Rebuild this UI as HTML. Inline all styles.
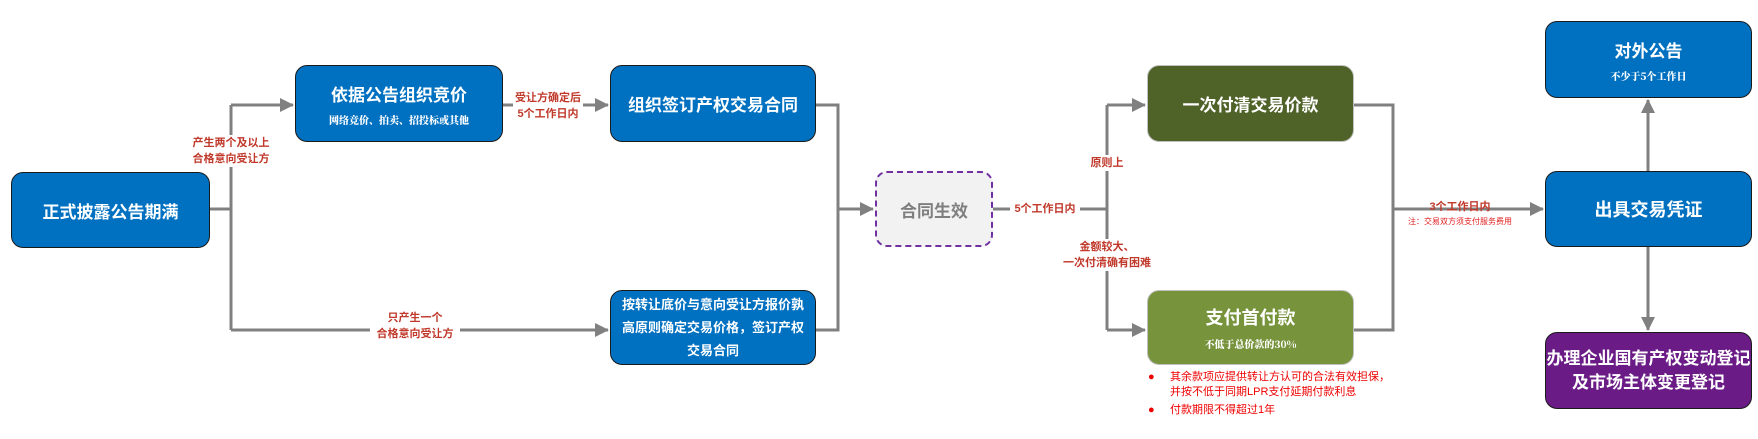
<!DOCTYPE html>
<html><head><meta charset="utf-8"><style>
body{margin:0;width:1758px;height:439px;background:#fff;position:relative;overflow:hidden;font-family:"Liberation Sans","Noto Sans CJK SC",sans-serif}
.b{position:absolute;border-radius:12px;box-sizing:border-box;color:#fff;font-weight:bold;display:flex;flex-direction:column;align-items:center;justify-content:center;text-align:center;border:1.5px solid #1a1a1a}
.blue{background:#0070c0}
.s{font-size:10px;margin-top:6px;font-family:"Noto Serif CJK SC",serif;font-weight:900}
.l{position:absolute;color:#c0392b;font-size:11px;text-align:center;line-height:16px;background:#fff;font-weight:bold}
</style></head><body>
<svg width="1758" height="439" style="position:absolute;left:0;top:0">
<defs><marker id="m" markerWidth="14" markerHeight="14" refX="13" refY="7" orient="auto" markerUnits="userSpaceOnUse"><path d="M0,0L14,7L0,14z" fill="#808080"/></marker></defs>
<g stroke="#808080" stroke-width="3" fill="none">
<path d="M210,209H231"/><path d="M231,105V330"/>
<path d="M231,105H293" marker-end="url(#m)"/>
<path d="M231,330H608" marker-end="url(#m)"/>
<path d="M503,105H608" marker-end="url(#m)"/>
<path d="M816,105H838V330H816"/>
<path d="M838,209H873" marker-end="url(#m)"/>
<path d="M993,209H1107"/><path d="M1107,105V330"/>
<path d="M1107,105H1145" marker-end="url(#m)"/>
<path d="M1107,330H1145" marker-end="url(#m)"/>
<path d="M1354,105H1393V330H1354"/>
<path d="M1393,209H1543" marker-end="url(#m)"/>
<path d="M1648,171V100" marker-end="url(#m)"/>
<path d="M1648,247V330" marker-end="url(#m)"/>
</g></svg>
<div class="b blue" style="left:11px;top:172px;width:199px;height:76px;font-size:17px">正式披露公告期满</div>
<div class="b blue" style="left:295px;top:65px;width:208px;height:77px;font-size:17px">依据公告组织竞价<div class="s">网络竞价、拍卖、招投标或其他</div></div>
<div class="b blue" style="left:610px;top:65px;width:206px;height:77px;font-size:17px">组织签订产权交易合同</div>
<div class="b blue" style="left:610px;top:290px;width:206px;height:75px;font-size:13px;line-height:23px;padding:0 3px">按转让底价与意向受让方报价孰<br>高原则确定交易价格，签订产权<br>交易合同</div>
<div class="b" style="left:875px;top:171px;width:118px;height:76px;background:#f2f2f2;border:2.5px dashed #7030a0;color:#7f7f7f;font-size:17px">合同生效</div>
<div class="b" style="left:1147px;top:65px;width:207px;height:77px;background:#4f6228;border-color:#c0c0c0;font-size:17px">一次付清交易价款</div>
<div class="b" style="left:1147px;top:290px;width:207px;height:75px;background:#77933c;border-color:#c0c0c0;font-size:18px">支付首付款<div class="s">不低于总价款的30%</div></div>
<div class="b blue" style="left:1545px;top:21px;width:207px;height:77px;font-size:17px">对外公告<div class="s">不少于5个工作日</div></div>
<div class="b blue" style="left:1545px;top:171px;width:207px;height:76px;font-size:18px">出具交易凭证</div>
<div class="b" style="left:1545px;top:332px;width:207px;height:77px;background:#6a1b86;font-size:17px;line-height:24px">办理企业国有产权变动登记<br>及市场主体变更登记</div>
<div class="l" style="left:186px;top:135px;width:90px">产生两个及以上<br>合格意向受让方</div>
<div class="l" style="left:370px;top:310px;width:90px">只产生一个<br>合格意向受让方</div>
<div class="l" style="left:513px;top:90px;width:70px">受让方确定后<br>5个工作日内</div>
<div class="l" style="left:1010px;top:201px;width:70px">5个工作日内</div>
<div class="l" style="left:1082px;top:155px;width:50px">原则上</div>
<div class="l" style="left:1057px;top:239px;width:100px">金额较大、<br>一次付清确有困难</div>
<div class="l" style="left:1410px;top:199px;width:100px;background:none">3个工作日内</div>
<div style="position:absolute;left:1405px;top:216px;width:110px;font-size:8px;color:#e02020;text-align:center">注：交易双方须支付服务费用</div>
<div style="position:absolute;left:1148px;top:370px;font-size:11px;color:#e00;line-height:15px">
<div><span style="display:inline-block;width:22px">●</span>其余款项应提供转让方认可的合法有效担保，</div>
<div style="padding-left:22px">并按不低于同期LPR支付延期付款利息</div>
<div style="margin-top:3px"><span style="display:inline-block;width:22px">●</span>付款期限不得超过1年</div></div>
</body></html>
